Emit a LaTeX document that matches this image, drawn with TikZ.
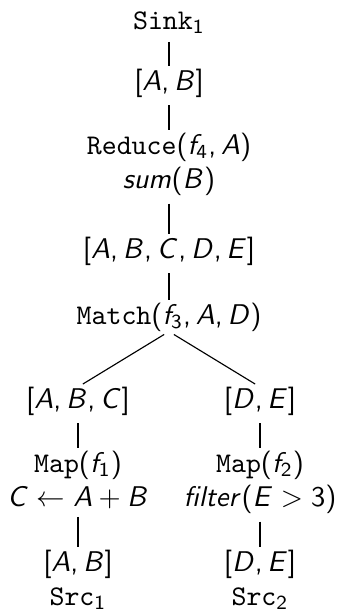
\documentclass[tikz,border=0pt]{standalone}
\DeclareSymbolFont{sfop}{OT1}{cmss}{m}{n}
\DeclareSymbolFont{sfit}{OT1}{cmss}{m}{sl}
\makeatletter
\count@=`A
\loop\ifnum\count@<`[ 
  \mathcode\count@=\numexpr 7*4096+\symsfit*256+\count@\relax
  \advance\count@ by 1
\repeat
\count@=`a
\loop\ifnum\count@<`\{ 
  \mathcode\count@=\numexpr 7*4096+\symsfit*256+\count@\relax
  \advance\count@ by 1
\repeat
\count@=`0
\loop\ifnum\count@<`: 
  \mathcode\count@=\numexpr 7*4096+\symsfop*256+\count@\relax
  \advance\count@ by 1
\repeat
\mathcode`(=\numexpr 4*4096+\symsfop*256+"28\relax
\mathcode`)=\numexpr 5*4096+\symsfop*256+"29\relax
\mathcode`[=\numexpr 4*4096+\symsfop*256+"5B\relax
\mathcode`]=\numexpr 5*4096+\symsfop*256+"5D\relax
\mathcode`+=\numexpr 2*4096+\symsfop*256+"2B\relax
\mathcode`,=\numexpr 6*4096+\symsfop*256+"2C\relax
\makeatother
\begin{document}
\begin{tikzpicture}[x=0.3509pt,y=-0.3509pt,
  lbl/.style={inner sep=0pt,outer sep=0pt,anchor=north,align=center},
  edge/.style={line width=0.4pt,shorten <=2.8pt,shorten >=1pt},
  dedge/.style={line width=0.4pt,shorten <=2pt,shorten >=2pt}]
\useasboundingbox (0,0) rectangle (338,613);
\node[lbl] (sink) at (169,12) {\texttt{Sink}$_1$};
\node[lbl] (ab1) at (169,69) {$[A,B]$};
\node[lbl] (red) at (169,133) {\texttt{Reduce}$(f_4,A)$\\$sum(B)$};
\node[lbl] (abcde) at (169,237) {$[A,B,C,D,E]$};
\node[lbl] (match) at (169,303) {\texttt{Match}$(f_3,A,D)$};
\node[lbl] (abc) at (78,387) {$[A,B,C]$};
\node[lbl] (de) at (260,387) {$[D,E]$};
\node[lbl] (map1) at (78,451) {\texttt{Map}$(f_1)$\\$C\leftarrow A+B$};
\node[lbl] (map2) at (260,451) {\texttt{Map}$(f_2)$\\$filter(E>3)$};
\node[lbl] (src1) at (78,550) {$[A,B]$\\\texttt{Src}$_1$};
\node[lbl] (src2) at (260,550) {$[D,E]$\\\texttt{Src}$_2$};
\draw[edge] (sink) -- (ab1);
\draw[edge] (ab1) -- (red);
\draw[edge] (red) -- (abcde);
\draw[edge] (abcde) -- (match);
\draw[dedge] (match.south) -- (abc.north);
\draw[dedge] (match.south) -- (de.north);
\draw[edge] (abc) -- (map1);
\draw[edge] (de) -- (map2);
\draw[edge] (map1) -- (src1);
\draw[edge] (map2) -- (src2);
\end{tikzpicture}
\end{document}
